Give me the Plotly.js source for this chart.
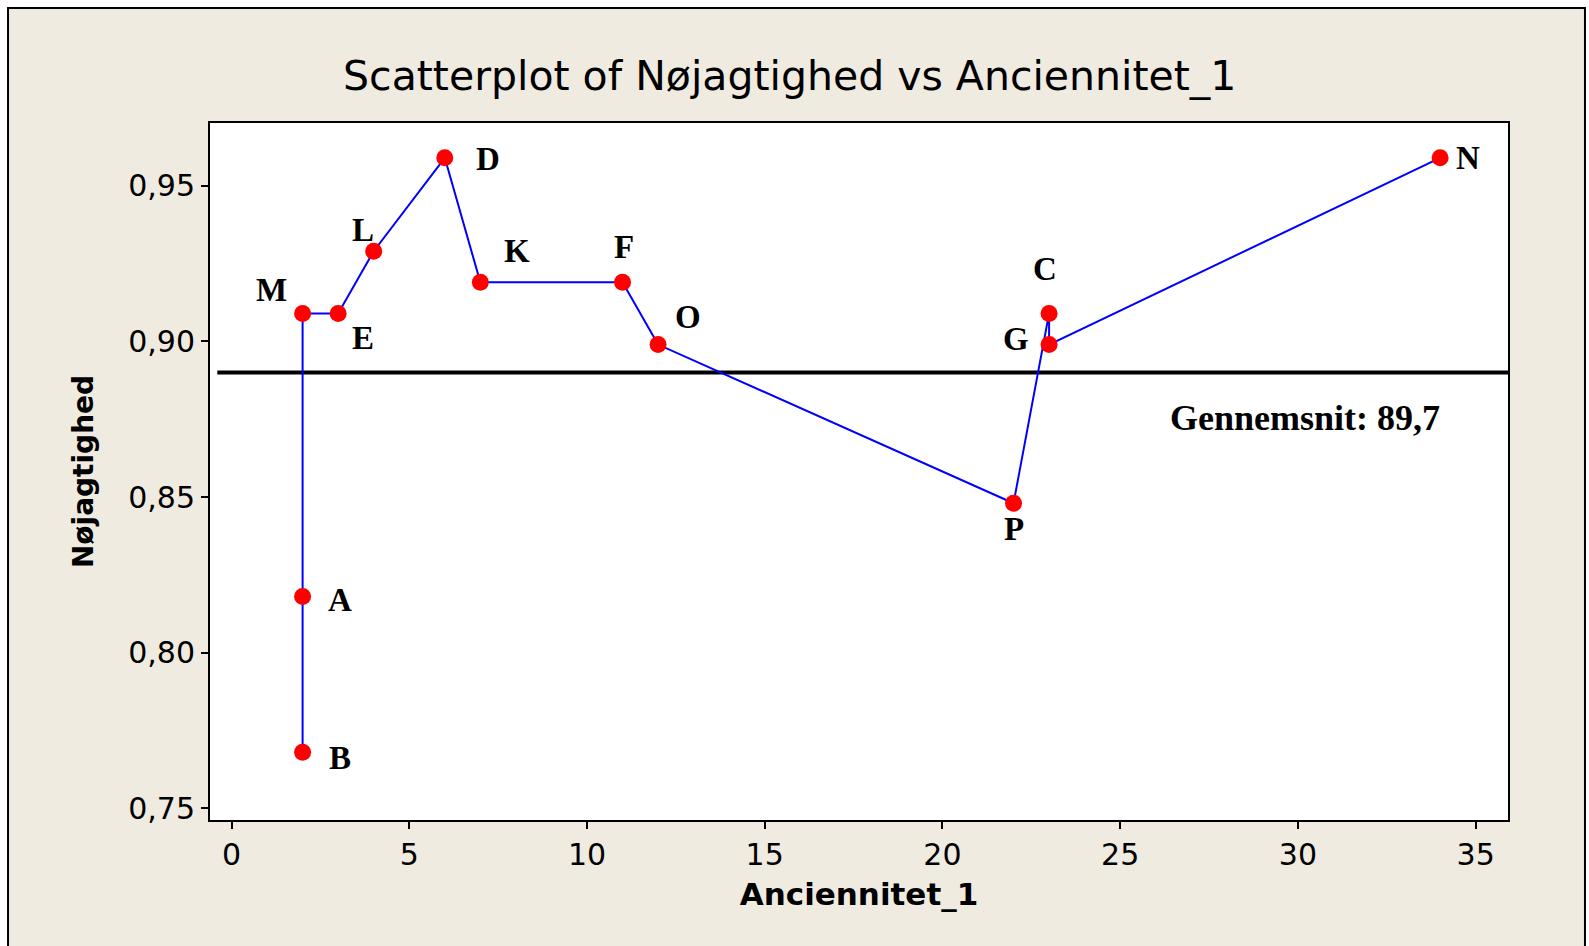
<!DOCTYPE html>
<html>
<head>
<meta charset="utf-8">
<script src="https://cdn.plot.ly/plotly-3.0.1.min.js"></script>
<style>
  html, body { margin: 0; padding: 0; background: #fff; }
  #chart { width: 1589px; height: 946px; }
</style>
</head>
<body>
<div id="chart"></div>
<script>
// data (path order as drawn)
const pointNames = ["B", "A", "M", "E", "L", "D", "K", "F", "O", "P", "C", "G", "N"];
const anciennitet = [2, 2, 2, 3, 4, 6, 7, 11, 12, 22, 23, 23, 34];
const noejagtighed = [0.768, 0.818, 0.909, 0.909, 0.929, 0.959, 0.919, 0.919, 0.899, 0.848, 0.909, 0.899, 0.959];
const gennemsnit = 0.89;
const gennemsnitLabel = "Gennemsnit: 89,7";
const xTicks = [0, 5, 10, 15, 20, 25, 30, 35];
const yTicks = [0.75, 0.80, 0.85, 0.90, 0.95];

// label offsets in px (dx right, dy up) for each point name
const labelOffsets = {
  B: [37, -6], A: [37, -3], M: [-31, 23], E: [25, -25], L: [-11, 21],
  D: [43, -1], K: [37, 31], F: [1, 35], O: [30, 28], P: [0, -26],
  C: [-4, 44], G: [-33, 6], N: [28, 0]
};

const sans = '"DejaVu Sans", Verdana, sans-serif';
const serif = '"Liberation Serif", "Times New Roman", serif';

const traces = [{
  x: anciennitet,
  y: noejagtighed,
  mode: "lines+markers",
  type: "scatter",
  line: { color: "#0000ff", width: 2 },
  marker: { color: "#ff0000", size: 17 },
  hoverinfo: "x+y",
  showlegend: false
}];

const annotations = pointNames.map((n, i) => ({
  x: anciennitet[i],
  y: noejagtighed[i],
  text: n,
  showarrow: false,
  xshift: labelOffsets[n][0],
  yshift: labelOffsets[n][1],
  font: { family: serif, size: 33, color: "#000", weight: "bold" }
}));

annotations.push({
  x: 30.2,
  y: 0.8754,
  text: gennemsnitLabel,
  showarrow: false,
  font: { family: serif, size: 36, color: "#000", weight: "bold" }
});

const layout = {
  width: 1589,
  height: 946,
  separators: ",.",
  paper_bgcolor: "#ffffff",
  plot_bgcolor: "rgba(0,0,0,0)",
  margin: { l: 210, r: 81, t: 123, b: 126 },
  title: {
    text: "Scatterplot of Nøjagtighed vs Anciennitet_1",
    font: { family: sans, size: 41, color: "#000" },
    x: 0.497,
    xanchor: "center",
    xref: "container",
    y: 0.92,
    yanchor: "middle",
    yref: "container"
  },
  xaxis: {
    range: [-0.605, 35.91],
    tickvals: xTicks,
    ticks: "outside",
    ticklen: 7,
    tickwidth: 2,
    tickcolor: "#000",
    tickfont: { family: sans, size: 30, color: "#000" },
    showgrid: false,
    zeroline: false,
    showline: true,
    mirror: true,
    linecolor: "#000",
    linewidth: 2,
    title: {
      text: "Anciennitet_1",
      font: { family: sans, size: 31, color: "#000", weight: "bold" },
      standoff: 12
    }
  },
  yaxis: {
    range: [0.7462, 0.9702],
    tickvals: yTicks,
    tickformat: ".2f",
    ticks: "outside",
    ticklen: 7,
    tickwidth: 2,
    tickcolor: "#000",
    tickfont: { family: sans, size: 30, color: "#000" },
    showgrid: false,
    zeroline: false,
    showline: true,
    mirror: true,
    linecolor: "#000",
    linewidth: 2,
    title: {
      text: "Nøjagtighed",
      font: { family: sans, size: 28, color: "#000", weight: "bold" },
      standoff: 26
    }
  },
  shapes: [
    // beige outer frame
    {
      type: "rect", xref: "paper", yref: "paper", layer: "below",
      x0: -0.1556, x1: 1.0593, y0: -0.21, y1: 1.165,
      fillcolor: "#efebe0", line: { color: "#000", width: 2 }
    },
    // white plot area
    {
      type: "rect", xref: "paper", yref: "paper", layer: "below",
      x0: 0, x1: 1, y0: 0, y1: 1,
      fillcolor: "#ffffff", line: { width: 0 }
    },
    // mean line
    {
      type: "line", xref: "x", yref: "y", layer: "below",
      x0: -0.4, x1: 35.91, y0: gennemsnit, y1: gennemsnit,
      line: { color: "#000", width: 4 }
    }
  ],
  annotations: annotations
};

Plotly.newPlot("chart", traces, layout, { displayModeBar: false, staticPlot: true });
</script>
</body>
</html>
